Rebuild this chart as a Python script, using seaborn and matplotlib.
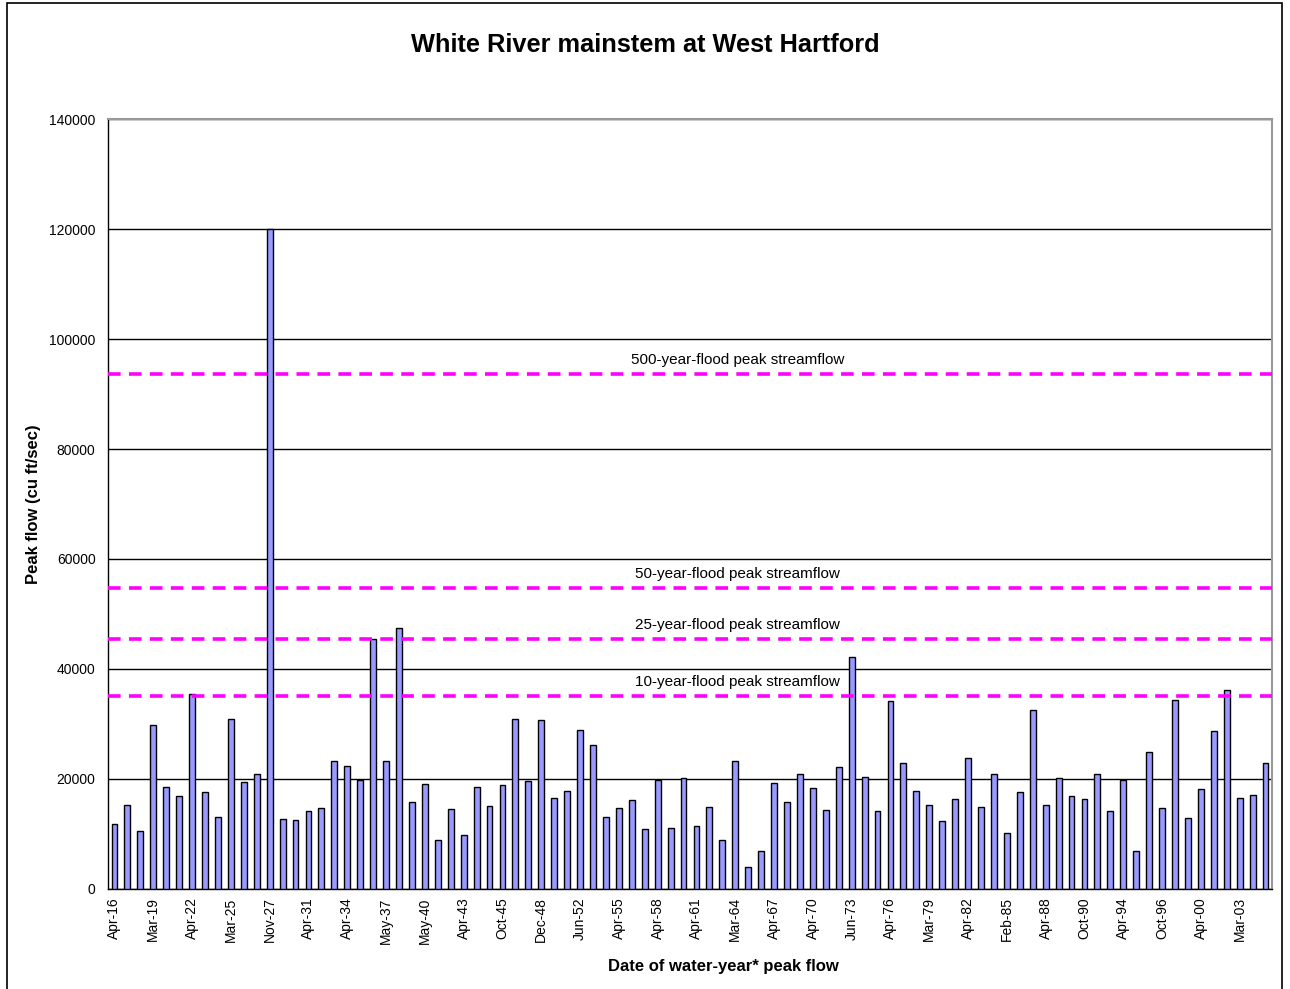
import pandas as pd
import matplotlib.pyplot as plt
import matplotlib.patches as mpatches
import matplotlib.transforms as mtrans
import seaborn as sb


# peak flow per water year (cu ft/sec)
peak_flow = [
    11800, 15200, 10600, 29800, 18500, 17000, 35500, 17600, 13100, 31000,
    19500, 21000, 120000, 12700, 12500, 14100, 14800, 23200, 22400, 19900,
    45400, 23200, 47500, 15800, 19100, 9000, 14500, 9800, 18500, 15100,
    18900, 31000, 19700, 30800, 16600, 17900, 29000, 26100, 13100, 14700,
    16200, 11000, 19900, 11100, 20100, 11500, 15000, 8900, 23200, 4000,
    6900, 19300, 15800, 20900, 18400, 14300, 22200, 42200, 20300, 14100,
    34100, 23000, 17800, 15200, 12400, 16400, 23800, 15000, 21000, 10100,
    17600, 32500, 15200, 20100, 17000, 16400, 21000, 14200, 19900, 6900,
    25000, 14800, 34400, 12900, 18100, 28700, 36200, 16500, 17100, 23000,
]

# every third bar carries a date label
tick_labels = [
    "Apr-16", "Mar-19", "Apr-22", "Mar-25", "Nov-27", "Apr-31", "Apr-34",
    "May-37", "May-40", "Apr-43", "Oct-45", "Dec-48", "Jun-52", "Apr-55",
    "Apr-58", "Apr-61", "Mar-64", "Apr-67", "Apr-70", "Jun-73", "Apr-76",
    "Mar-79", "Apr-82", "Feb-85", "Apr-88", "Oct-90", "Apr-94", "Oct-96",
    "Apr-00", "Mar-03",
]
label_step = 3

flood_names = [
    "500-year-flood peak streamflow",
    "50-year-flood peak streamflow",
    "25-year-flood peak streamflow",
    "10-year-flood peak streamflow",
]
flood_values = [93600, 54800, 45500, 35100]


sb.set_theme(style="white")
plt.rcParams["font.family"] = ["Liberation Sans", "DejaVu Sans"]
plt.rcParams["text.color"] = "black"
plt.rcParams["axes.labelcolor"] = "black"
plt.rcParams["xtick.color"] = "black"
plt.rcParams["ytick.color"] = "black"

df = pd.DataFrame({"idx": range(len(peak_flow)), "flow": peak_flow})

fig = plt.figure(figsize=(12.9, 9.89), dpi=100)
ax = fig.add_axes([108 / 1290, 1 - 889 / 989, 1164 / 1290, 770 / 989])

sb.barplot(
    data=df,
    x="idx",
    y="flow",
    color="#9999FF",
    saturation=1,
    width=0.45,
    edgecolor="black",
    linewidth=1,
    ax=ax,
    zorder=3,
)

# flood reference lines
trans = mtrans.blended_transform_factory(ax.transAxes, ax.transData)
for name, val in zip(flood_names, flood_values):
    ax.axhline(val, color="#FF00FF", lw=2.6, ls=(0, (3.5, 2.3)), zorder=4)
    ax.annotate(
        name, xy=(0.541, val), xycoords=trans, xytext=(0, 5),
        textcoords="offset points", ha="center", va="bottom", fontsize=11,
    )

ax.set_xlim(-0.5, len(peak_flow) - 0.5)
ax.set_ylim(0, 140000)
ax.set_yticks(range(0, 140001, 20000))
ax.yaxis.grid(True, color="black", lw=1)
ax.set_axisbelow(True)

ax.set_xticks(range(0, len(peak_flow), label_step))
ax.set_xticklabels(tick_labels, rotation=90, fontsize=10)
ax.set_xticks([i - 0.5 for i in range(len(peak_flow) + 1)], minor=True)
ax.tick_params(axis="x", which="major", length=0, pad=6)
ax.tick_params(axis="x", which="minor", length=5, width=1, color="black", direction="out")
ax.tick_params(axis="y", length=5, width=1, color="black", direction="out", labelsize=10, pad=4)

for s in ["left", "bottom"]:
    ax.spines[s].set_color("black")
    ax.spines[s].set_linewidth(1)
for s in ["top", "right"]:
    ax.spines[s].set_color("#999999")
    ax.spines[s].set_linewidth(1.5)

ax.set_xlabel("Date of water-year* peak flow", fontsize=12, fontweight="bold")
ax.xaxis.set_label_coords((723 - 108) / 1164, (889 - 967) / 770)
ax.xaxis.label.set_va("center")
ax.set_ylabel("Peak flow (cu ft/sec)", fontsize=12, fontweight="bold")
ax.yaxis.set_label_coords((33 - 108) / 1164, 0.5)
ax.yaxis.label.set_va("center")
fig.suptitle("White River mainstem at West Hartford", fontsize=18.3, fontweight="bold",
             x=645 / 1290, y=1 - 45 / 989, va="center")

# outer chart border
fig.patches.append(mpatches.Rectangle(
    (7 / 1290, -0.01), 1275 / 1290, 1.01 - 3 / 989,
    transform=fig.transFigure, fill=False, edgecolor="black", lw=1.2,
))

fig.savefig("out.png", dpi=100)
